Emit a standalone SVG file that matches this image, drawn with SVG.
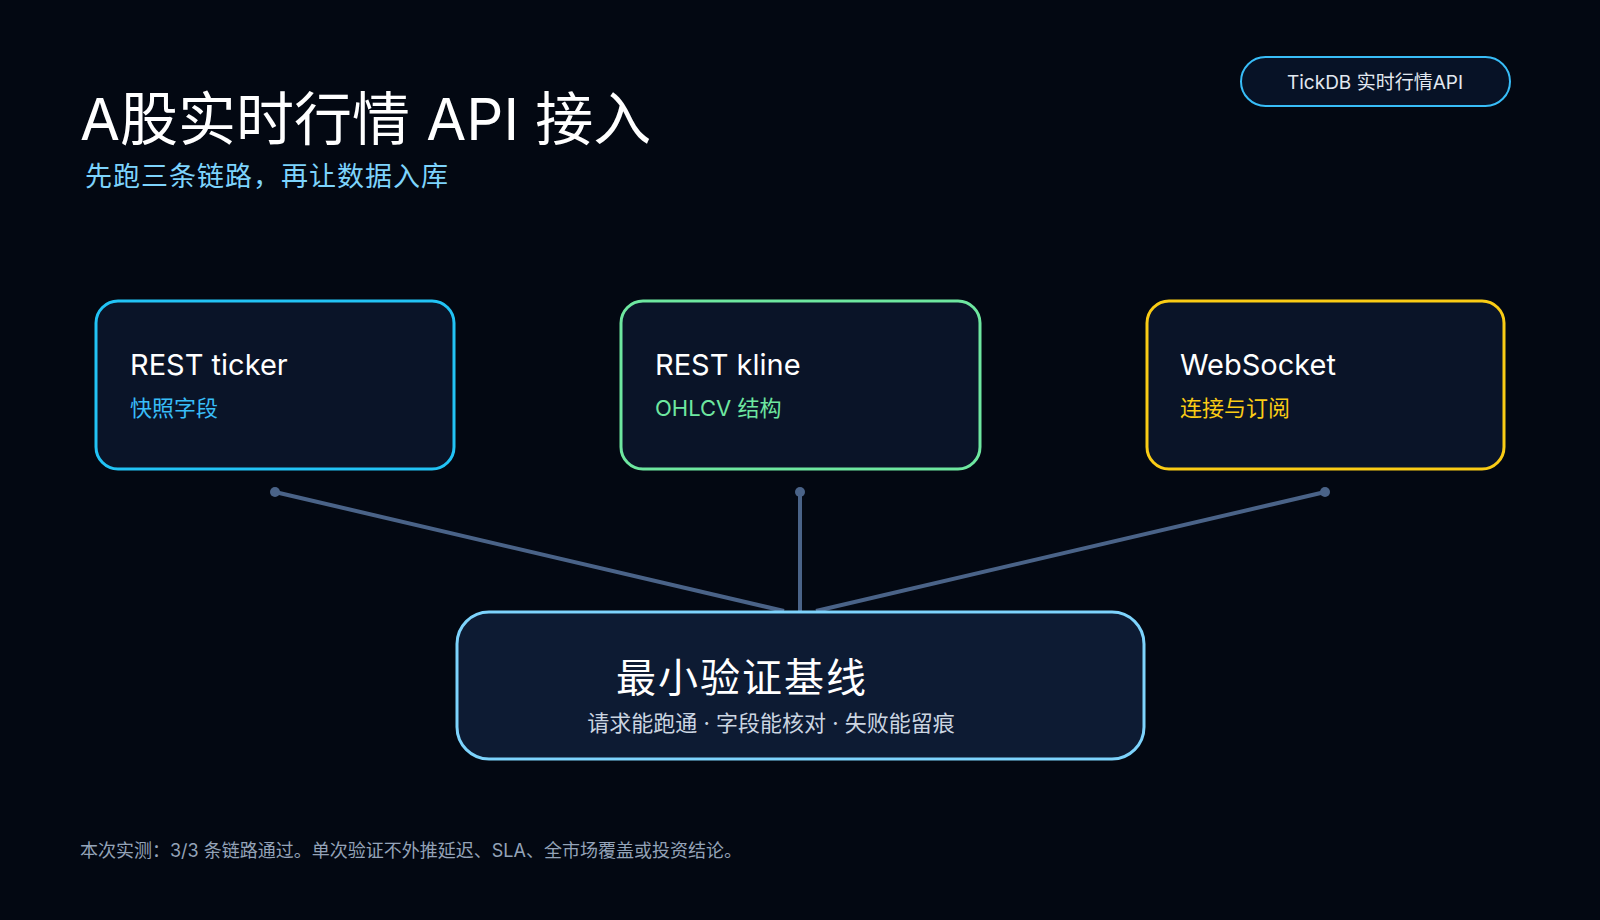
<svg xmlns="http://www.w3.org/2000/svg" width="1600" height="920" viewBox="0 0 1600 920">
<style>
text{font-family:"Inter","Liberation Sans","Noto Sans CJK SC",sans-serif}
.card{fill:#0a1428;stroke-width:3}
.h{fill:#ffffff;font-size:29px}
.s{font-size:22px}
.ln{stroke:#4a6388;stroke-width:4;fill:none}
.dot{fill:#4a6388}
</style>
<rect width="1600" height="920" fill="#030812"/>
<text x="80" y="140" fill="#fff" font-size="58">A股实时行情 API 接入</text>
<text x="85" y="186" fill="#7dd3fc" font-size="27" letter-spacing="1">先跑三条链路，再让数据入库</text>
<g id="badge"><rect x="1241" y="57" width="269" height="49" rx="24.5" fill="#071226" stroke="#38bdf8" stroke-width="2"/><text x="1375" y="89" fill="#e2e8f0" font-size="19" text-anchor="middle">TickDB 实时行情API</text></g>
<g id="connectors">
<path class="ln" d="M275 492 L784 611"/><path class="ln" d="M800 492 L800 611"/><path class="ln" d="M1325 492 L816 611"/>
<circle class="dot" cx="275" cy="492" r="5"/><circle class="dot" cx="800" cy="492" r="5"/><circle class="dot" cx="1325" cy="492" r="5"/>
</g>
<g id="ticker"><rect class="card" x="96" y="301" width="358" height="168" rx="22" stroke="#22c3f5"/><text class="h" x="130" y="375">REST ticker</text><text class="s" x="130" y="416" fill="#38bdf8">快照字段</text></g>
<g id="kline"><rect class="card" x="621" y="301" width="359" height="168" rx="22" stroke="#6ee7a0"/><text class="h" x="655" y="375">REST kline</text><text class="s" x="655" y="416" fill="#6ee7a0">OHLCV 结构</text></g>
<g id="ws"><rect class="card" x="1147" y="301" width="357" height="168" rx="22" stroke="#facc15"/><text class="h" x="1180" y="375">WebSocket</text><text class="s" x="1180" y="416" fill="#facc15">连接与订阅</text></g>
<g id="base"><rect x="457" y="612" width="687" height="147" rx="32" fill="#0d1b33" stroke="#7dd3fc" stroke-width="3"/><text x="742" y="692" fill="#fff" font-size="40" text-anchor="middle" letter-spacing="2">最小验证基线</text><text x="771" y="731" fill="#cbd5e1" font-size="22" text-anchor="middle">请求能跑通 · 字段能核对 · 失败能留痕</text></g>
<text x="80" y="857" fill="#94a3b8" font-size="18">本次实测：3/3 条链路通过。单次验证不外推延迟、SLA、全市场覆盖或投资结论。</text>
</svg>
